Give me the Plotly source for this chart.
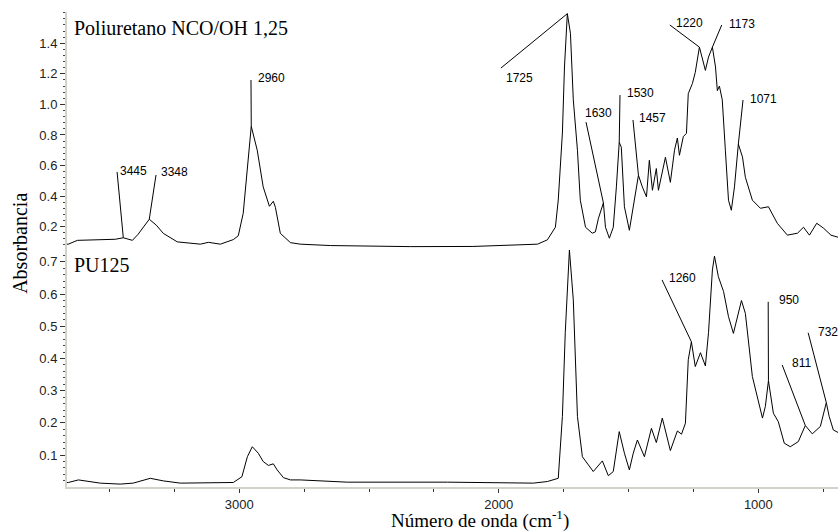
import numpy as np
import plotly.graph_objects as go

# ---------------- data ----------------
top_wn = [3664, 3659, 3624, 3560, 3478, 3447, 3412, 3390, 3365, 3347, 3320, 3293, 3239, 3190, 3150,
          3119, 3073, 3023, 3004, 2985, 2965, 2954, 2931, 2908, 2884, 2869, 2861, 2842, 2803, 2765,
          2649, 2341, 2100, 1851, 1813, 1782, 1771, 1755, 1747, 1736, 1724, 1713, 1697, 1686, 1666,
          1640, 1628, 1616, 1597, 1589, 1574, 1559, 1547, 1536, 1528, 1516, 1497, 1478, 1462, 1447,
          1431, 1420, 1408, 1393, 1385, 1358, 1339, 1323, 1312, 1304, 1289, 1277, 1270, 1254, 1243,
          1227, 1204, 1192, 1177, 1165, 1158, 1150, 1139, 1127, 1115, 1104, 1092, 1077, 1061, 1050,
          1023, 992, 961, 927, 888, 849, 826, 803, 775, 749, 720, 692]
top_abs = [0.085, 0.085, 0.11, 0.115, 0.117, 0.127, 0.11, 0.15, 0.21, 0.248, 0.21, 0.156, 0.10, 0.09, 0.085,
           0.097, 0.085, 0.115, 0.14, 0.287, 0.634, 0.857, 0.70, 0.46, 0.333, 0.366, 0.327, 0.156, 0.095, 0.085,
           0.076, 0.069, 0.07, 0.085, 0.113, 0.196, 0.374, 0.813, 1.245, 1.594, 1.465, 1.03, 0.70, 0.373, 0.196,
           0.157, 0.165, 0.255, 0.355, 0.196, 0.124, 0.196, 0.46, 0.752, 0.72, 0.33, 0.176, 0.373, 0.536, 0.46,
           0.395, 0.634, 0.438, 0.58, 0.438, 0.654, 0.49, 0.70, 0.78, 0.667, 0.79, 0.81, 1.07, 1.137, 1.21,
           1.375, 1.223, 1.31, 1.375, 1.245, 1.09, 1.12, 1.03, 0.70, 0.373, 0.307, 0.46, 0.74, 0.655, 0.523,
           0.373, 0.32, 0.33, 0.222, 0.144, 0.157, 0.196, 0.144, 0.222, 0.19, 0.144, 0.13]

bot_wn = [3664, 3659, 3620, 3586, 3536, 3459, 3409, 3343, 3293, 3227, 3123, 3023, 2990, 2969, 2950,
          2927, 2908, 2888, 2869, 2854, 2830, 2803, 2765, 2584, 2198, 1867, 1813, 1771, 1755, 1744,
          1728, 1713, 1697, 1678, 1636, 1601, 1578, 1559, 1536, 1516, 1497, 1482, 1466, 1439, 1412,
          1393, 1370, 1339, 1312, 1296, 1281, 1270, 1258, 1243, 1223, 1204, 1192, 1177, 1169, 1154,
          1134, 1115, 1096, 1081, 1065, 1050, 1023, 984, 973, 961, 942, 923, 900, 877, 846,
          819, 792, 761, 738, 727, 711, 692]
bot_abs = [0.015, 0.015, 0.023, 0.018, 0.013, 0.01, 0.013, 0.028, 0.02, 0.013, 0.013, 0.015, 0.033, 0.095, 0.126,
           0.106, 0.08, 0.068, 0.073, 0.054, 0.03, 0.023, 0.023, 0.016, 0.016, 0.013, 0.018, 0.028, 0.22, 0.48,
           0.737, 0.582, 0.22, 0.095, 0.049, 0.082, 0.036, 0.049, 0.173, 0.106, 0.054, 0.106, 0.147, 0.095, 0.183,
           0.139, 0.215, 0.114, 0.175, 0.165, 0.199, 0.396, 0.452, 0.375, 0.418, 0.377, 0.48, 0.675, 0.718, 0.654,
           0.608, 0.53, 0.478, 0.53, 0.58, 0.54, 0.344, 0.215, 0.251, 0.331, 0.23, 0.204, 0.137, 0.126, 0.142,
           0.192, 0.166, 0.189, 0.263, 0.22, 0.178, 0.17]

# peak labels (top panel)
top_labels = ["3445", "3348", "2960", "1725", "1630", "1530", "1457", "1220", "1173", "1071"]
top_tip_wn = [3447, 3347, 2954, 1736, 1597, 1536, 1462, 1227, 1177, 1077]
top_tail_wn = [3471, 3321, 2955, 1992, 1664, 1533, 1483, 1341, 1141, 1059]
top_tail_abs = [0.558, 0.538, 1.16, 1.238, 0.884, 1.061, 0.898, 1.52, 1.52, 1.029]
top_text_wn = [3468, 3309, 2936, 1920, 1616, 1514, 1468, 1265, 1121, 1040]
top_text_abs = [0.564, 0.558, 1.173, 1.173, 0.943, 1.075, 0.911, 1.533, 1.526, 1.035]
top_text_anchor = ["left", "left", "left", "center", "center", "left", "left", "center", "left", "left"]

# peak labels (bottom panel)
bot_labels = ["1260", "950", "811", "732"]
bot_tip_wn = [1258, 961, 819, 738]
bot_tail_wn = [1371, 962, 908, 808]
bot_tail_abs = [0.644, 0.576, 0.38, 0.48]
bot_text_wn = [1352, 928, 878, 778]
bot_text_abs = [0.65, 0.582, 0.386, 0.483]

x_range = [3664, 693]
top_range = [0.047, 1.605]
bot_range = [0.001, 0.737]
top_ticks = [0.2, 0.4, 0.6, 0.8, 1.0, 1.2, 1.4]
bot_ticks = [0.1, 0.2, 0.3, 0.4, 0.5, 0.6, 0.7]

# ---------------- figure ----------------
fig = go.Figure()
fig.add_trace(go.Scatter(x=top_wn, y=top_abs, mode="lines", xaxis="x", yaxis="y2",
                         line=dict(color="black", width=1), showlegend=False, hoverinfo="skip"))
fig.add_trace(go.Scatter(x=bot_wn, y=bot_abs, mode="lines", xaxis="x", yaxis="y",
                         line=dict(color="black", width=1), showlegend=False, hoverinfo="skip"))

label_font = dict(family="Liberation Sans, Arial", size=12, color="black")
shapes = []
annotations = []


def interp(wn_list, ab_list, w):
    return float(np.interp(w, wn_list[::-1], ab_list[::-1]))


for lab, tw, lw, la, xw, xa, anc in zip(top_labels, top_tip_wn, top_tail_wn, top_tail_abs,
                                        top_text_wn, top_text_abs, top_text_anchor):
    shapes.append(dict(type="line", xref="x", yref="y2", x0=tw, y0=interp(top_wn, top_abs, tw),
                       x1=lw, y1=la, line=dict(color="black", width=1)))
    annotations.append(dict(text=lab, xref="x", yref="y2", x=xw, y=xa, showarrow=False,
                            xanchor=anc, yanchor="middle", font=label_font))

for lab, tw, lw, la, xw, xa in zip(bot_labels, bot_tip_wn, bot_tail_wn, bot_tail_abs,
                                   bot_text_wn, bot_text_abs):
    shapes.append(dict(type="line", xref="x", yref="y", x0=tw, y0=interp(bot_wn, bot_abs, tw),
                       x1=lw, y1=la, line=dict(color="black", width=1)))
    annotations.append(dict(text=lab, xref="x", yref="y", x=xw, y=xa, showarrow=False,
                            xanchor="left", yanchor="middle", font=label_font))

serif = dict(family="Liberation Serif, Times New Roman", size=20, color="black")
annotations += [
    dict(text="Poliuretano NCO/OH 1,25", xref="paper", yref="paper", x=0.006, y=0.966,
         xanchor="left", yanchor="middle", showarrow=False, font=serif),
    dict(text="PU125", xref="paper", yref="paper", x=0.006, y=0.467,
         xanchor="left", yanchor="middle", showarrow=False, font=serif),
    dict(text="Absorbancia", xref="paper", yref="paper", x=-0.061, y=0.514, textangle=-90,
         xanchor="center", yanchor="middle", showarrow=False, font=serif),
    dict(text="Número de onda (cm<sup>-1</sup>)", xref="paper", yref="paper", x=0.536, y=-0.068,
         xanchor="center", yanchor="middle", showarrow=False,
         font=dict(family="Liberation Serif, Times New Roman", size=19, color="black")),
]

tick_font = dict(family="Liberation Sans, Arial", size=13, color="#222")
axis_line = dict(showline=True, linecolor="#d2d2ca", linewidth=2, showgrid=False, zeroline=False)

fig.update_layout(
    width=838, height=532,
    margin=dict(l=67, r=0, t=12, b=45),
    paper_bgcolor="white", plot_bgcolor="white",
    xaxis=dict(range=x_range, anchor="y", tickmode="linear", tick0=0, dtick=1000,
               ticks="outside", ticklen=4, tickcolor="#333", tickwidth=1,
               minor=dict(dtick=250, tick0=0, ticks="outside", ticklen=3, tickcolor="#333"),
               tickfont=tick_font, **axis_line),
    yaxis=dict(domain=[0, 0.499], range=bot_range, anchor="x", tickmode="array",
               tickvals=bot_ticks, ticktext=[f"{v:.1f}" for v in bot_ticks],
               ticks="outside", ticklen=5, tickcolor="#333", tickwidth=1,
               minor=dict(dtick=0.02, tick0=0, ticks="outside", ticklen=2, tickcolor="#444"),
               tickfont=tick_font, **axis_line),
    yaxis2=dict(domain=[0.499, 1], range=top_range, anchor="x", tickmode="array",
                tickvals=top_ticks, ticktext=[f"{v:.1f}" for v in top_ticks],
                ticks="outside", ticklen=5, tickcolor="#333", tickwidth=1,
                minor=dict(dtick=0.04, tick0=0, ticks="outside", ticklen=2, tickcolor="#444"),
                tickfont=tick_font, **axis_line),
    shapes=shapes,
    annotations=annotations,
)

fig.write_html("out.html")
